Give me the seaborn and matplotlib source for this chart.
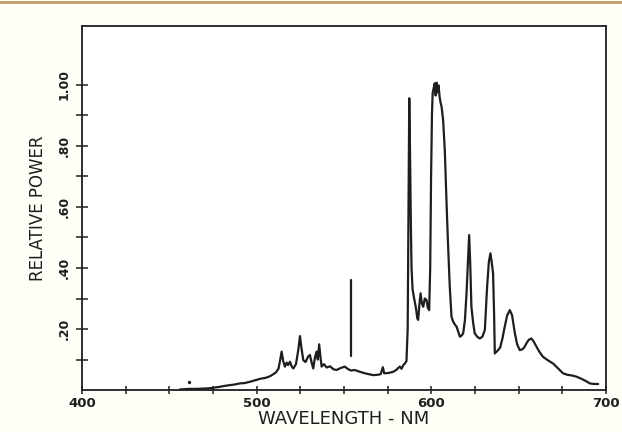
import matplotlib
matplotlib.use('Agg')
import numpy as np
import pandas as pd
import seaborn as sns
import matplotlib.pyplot as plt
from matplotlib.ticker import FixedLocator, FixedFormatter

# spectral power curve
wavelength = [456.0, 461.4, 466.0, 473.0, 478.0, 483.0, 487.0, 490.5, 493.0, 496.0,
              499.0, 502.0, 505.0, 507.5, 509.0, 511.0, 512.5, 513.5, 514.3, 515.2,
              516.2, 517.2, 518.0, 519.1, 520.0, 521.0, 522.5, 523.8, 524.8, 525.6,
              526.7, 528.0, 529.5, 530.5, 531.5, 532.4, 533.3, 534.3, 535.0, 535.8,
              536.5, 537.2, 538.5, 540.1, 542.0, 544.0, 545.8, 548.0, 550.5, 552.0,
              554.0, 556.0, 559.1, 562.0, 564.5, 566.7, 569.0, 571.0, 572.3, 573.0,
              575.5, 578.2, 580.0, 581.0, 582.0, 583.0, 584.0, 584.9, 585.8, 586.5,
              587.0, 587.4, 587.8, 588.3, 588.7, 589.3, 590.2, 591.2, 592.0, 592.5,
              593.2, 593.9, 594.6, 595.4, 596.3, 597.3, 598.0, 598.8, 599.4, 599.9,
              600.4, 600.8, 601.4, 602.0, 602.5, 603.1, 603.6, 604.2, 604.8, 605.4,
              605.9, 606.8, 607.8, 608.7, 609.6, 610.6, 611.6, 612.5, 613.5, 614.5,
              615.5, 616.4, 617.3, 618.3, 619.3, 620.2, 621.0, 621.7, 622.3, 623.0,
              624.0, 624.9, 626.3, 627.8, 629.3, 630.7, 632.0, 633.0, 633.9, 634.6,
              635.4, 636.0, 636.4, 637.3, 638.3, 639.5, 640.8, 642.1, 643.5, 645.0,
              646.3, 647.9, 649.2, 650.7, 652.0, 653.3, 654.5, 655.9, 657.4, 658.8,
              660.3, 662.0, 664.0, 667.0, 669.8, 672.5, 675.5, 678.0, 680.5, 683.2,
              686.0, 688.5, 690.8, 693.0, 695.6]
power = [0.002, 0.004, 0.004, 0.006, 0.010, 0.015, 0.018, 0.022, 0.023, 0.027,
         0.032, 0.037, 0.040, 0.045, 0.050, 0.058, 0.070, 0.100, 0.126, 0.095,
         0.077, 0.090, 0.082, 0.093, 0.078, 0.071, 0.085, 0.130, 0.177, 0.140,
         0.098, 0.092, 0.110, 0.115, 0.090, 0.071, 0.105, 0.126, 0.100, 0.150,
         0.110, 0.077, 0.085, 0.074, 0.078, 0.068, 0.066, 0.072, 0.077, 0.070,
         0.064, 0.066, 0.060, 0.055, 0.052, 0.049, 0.050, 0.052, 0.075, 0.055,
         0.056, 0.060, 0.066, 0.072, 0.077, 0.070, 0.082, 0.087, 0.095, 0.200,
         0.600, 0.956, 0.800, 0.550, 0.400, 0.330, 0.300, 0.270, 0.235, 0.230,
         0.280, 0.317, 0.285, 0.273, 0.300, 0.295, 0.270, 0.262, 0.400, 0.700,
         0.900, 0.973, 0.990, 1.005, 0.965, 1.007, 0.975, 0.998, 0.960, 0.940,
         0.929, 0.885, 0.780, 0.623, 0.480, 0.339, 0.240, 0.225, 0.215, 0.208,
         0.190, 0.175, 0.178, 0.186, 0.230, 0.317, 0.420, 0.508, 0.420, 0.273,
         0.220, 0.186, 0.175, 0.169, 0.175, 0.197, 0.339, 0.420, 0.448, 0.420,
         0.383, 0.250, 0.120, 0.125, 0.131, 0.140, 0.170, 0.208, 0.245, 0.262,
         0.245, 0.186, 0.150, 0.131, 0.133, 0.140, 0.153, 0.165, 0.169, 0.158,
         0.142, 0.125, 0.109, 0.097, 0.087, 0.072, 0.055, 0.050, 0.048, 0.044,
         0.037, 0.030, 0.022, 0.020, 0.020]

# the loose vertical stroke near 554 nm and the stray dot near 461 nm
spike_x = [554.0, 554.0]
spike_y = [0.111, 0.361]
dot_x = [461.4]
dot_y = [0.027]

x_major = [400, 500, 600, 700]
x_labels = ['400', '500', '600', '700']
x_minor = [425, 450, 475, 525, 550, 575, 625, 650, 675]
y_major = [0.2, 0.4, 0.6, 0.8, 1.0]
y_labels = ['.20', '.40', '.60', '.80', '1.00']
y_minor = [0.1, 0.3, 0.5, 0.7, 0.9]

sns.set_theme(style='white')
plt.rcParams['font.family'] = ['DejaVu Sans']

ink = '#1e1e1e'
fig = plt.figure(figsize=(6.22, 4.32), dpi=100, facecolor='#fffff8')
ax = fig.add_axes([0.132, 0.097, 0.842, 0.843])
ax.set_facecolor('white')

df = pd.DataFrame({'wavelength': wavelength, 'power': power})
sns.lineplot(data=df, x='wavelength', y='power', ax=ax, color=ink, lw=1.6,
             estimator=None, sort=False)
sns.lineplot(x=spike_x, y=spike_y, ax=ax, color=ink, lw=1.6, estimator=None, sort=False)
sns.scatterplot(x=dot_x, y=dot_y, ax=ax, color=ink, s=6, linewidth=0)

ax.set_xlim(400, 700)
ax.set_ylim(0, 1.193)

ax.xaxis.set_major_locator(FixedLocator(x_major))
ax.xaxis.set_major_formatter(FixedFormatter(x_labels))
ax.xaxis.set_minor_locator(FixedLocator(x_minor))
ax.yaxis.set_major_locator(FixedLocator(y_major))
ax.yaxis.set_major_formatter(FixedFormatter(y_labels))
ax.yaxis.set_minor_locator(FixedLocator(y_minor))

ax.tick_params(which='both', direction='inout', length=8, width=1.1, color=ink,
               bottom=True, left=True, top=False, right=False)
ax.tick_params(axis='x', which='both', length=6)
ax.tick_params(axis='x', which='major', labelsize=9.5, pad=2, labelcolor=ink)
ax.tick_params(axis='y', which='major', labelsize=9, pad=4, labelcolor=ink,
               labelrotation=90)
for lab in ax.get_xticklabels() + ax.get_yticklabels():
    lab.set_fontweight('bold')
for lab in ax.get_yticklabels():
    lab.set_va('center')

for s in ax.spines.values():
    s.set_color(ink)
    s.set_linewidth(1.3)

ax.set_xlabel('WAVELENGTH - NM', fontsize=13, color=ink)
ax.xaxis.set_label_coords(0.5, -0.056)
ax.set_ylabel('RELATIVE POWER', fontsize=12, color=ink, labelpad=8)

# thin tan strip along the top edge of the scan
fig.add_artist(plt.Line2D([0, 1], [0.996, 0.996], transform=fig.transFigure,
                          color='#c49a66', lw=2))

fig.savefig('out.png', dpi=100, facecolor=fig.get_facecolor())
